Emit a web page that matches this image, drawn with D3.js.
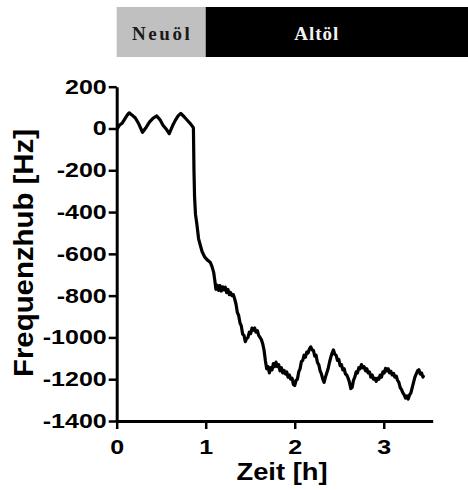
<!DOCTYPE html>
<html>
<head>
<meta charset="utf-8">
<script src="https://cdn.jsdelivr.net/npm/d3@7"></script>
<style>
  body { margin: 0; background: #fff; }
  svg { display: block; }
</style>
</head>
<body>
<div id="chart"></div>
<script>
// phases shown in the bar above the plot
const phases = ["Neuöl", "Altöl"];
const phaseStart = [0, 1];

const yTicks = [-1400, -1200, -1000, -800, -600, -400, -200, 0, 200];
const yMinor = [-1300, -1100, -900, -700, -500, -300, -100, 100];
const xTicks = [0, 1, 2, 3];
const xMinor = [0.25, 0.5, 0.75, 1.25, 1.5, 1.75, 2.25, 2.5, 2.75, 3.25, 3.5];

// time [h]
const zeit = [
  0.00, 0.03, 0.06, 0.09, 0.12, 0.14, 0.17, 0.21, 0.25, 0.29, 0.33, 0.37, 0.41, 0.45,
  0.49, 0.52, 0.56, 0.59, 0.63, 0.66, 0.69, 0.72, 0.76, 0.80, 0.83, 0.86, 0.862, 0.868,
  0.875, 0.885, 0.90, 0.92, 0.94, 0.96, 0.99, 1.02, 1.05, 1.07, 1.09,
  1.10, 1.115, 1.13, 1.145, 1.16, 1.175, 1.19, 1.205, 1.22, 1.235, 1.25, 1.265, 1.28, 1.295,
  1.31, 1.325, 1.34, 1.355, 1.37, 1.385, 1.40, 1.415, 1.43, 1.445, 1.46, 1.475, 1.49, 1.505,
  1.52, 1.535, 1.55, 1.565, 1.58, 1.595, 1.61, 1.625, 1.64, 1.655, 1.67, 1.685, 1.70, 1.715,
  1.73, 1.745, 1.76, 1.775, 1.79, 1.805, 1.82, 1.835, 1.85, 1.865, 1.88, 1.895, 1.91, 1.925,
  1.94, 1.955, 1.97, 1.985, 2.00, 2.015, 2.03, 2.045, 2.06, 2.075, 2.09, 2.105, 2.12, 2.135,
  2.15, 2.165, 2.18, 2.195, 2.21, 2.225, 2.24, 2.255, 2.27, 2.285, 2.30, 2.315, 2.33, 2.345,
  2.36, 2.375, 2.39, 2.405, 2.42, 2.435, 2.45, 2.465, 2.48, 2.495, 2.51, 2.525, 2.54, 2.555,
  2.57, 2.585, 2.60, 2.615, 2.63, 2.645, 2.66, 2.675, 2.69, 2.705, 2.72, 2.735, 2.75, 2.765,
  2.78, 2.795, 2.81, 2.825, 2.84, 2.855, 2.87, 2.885, 2.90, 2.915, 2.93, 2.945, 2.96, 2.975,
  2.99, 3.005, 3.02, 3.035, 3.05, 3.065, 3.08, 3.095, 3.11, 3.125, 3.14, 3.155, 3.17, 3.185,
  3.20, 3.215, 3.23, 3.245, 3.26, 3.275, 3.29, 3.305, 3.32, 3.335, 3.35, 3.365, 3.38, 3.395,
  3.41, 3.425, 3.44, 3.45
];

// frequency shift [Hz]
const hub = [
  -5, 15, 25, 45, 65, 75, 65, 50, 20, -18, 5, 32, 50, 60,
  40, 16, -5, -25, 15, 40, 60, 72, 55, 36, 22, 5, 0, -200,
  -330, -410, -456, -528, -560, -590, -616, -630, -640, -660, -690,
  -720, -770, -750, -775, -752, -778, -758, -772, -760, -785, -770, -795, -785, -800,
  -795, -815, -840, -880, -895, -930, -945, -985, -990, -1020, -1005, -1000, -975, -982,
  -955, -965, -955, -975, -968, -990, -1000, -1010, -1030, -1060, -1110, -1150, -1140, -1170,
  -1145, -1155, -1125, -1140, -1118, -1140, -1130, -1160, -1145, -1170, -1158, -1175, -1165, -1190,
  -1180, -1200, -1195, -1225, -1230, -1205, -1200, -1165, -1150, -1115, -1110, -1085, -1095, -1070,
  -1075, -1055, -1045, -1060, -1062, -1090, -1085, -1120, -1130, -1160, -1175, -1200, -1215, -1190,
  -1170, -1150, -1120, -1095, -1075, -1060, -1080, -1085, -1110, -1105, -1135, -1130, -1155, -1150,
  -1175, -1180, -1195, -1215, -1245, -1240, -1205, -1190, -1165, -1170, -1145, -1150, -1130, -1145,
  -1140, -1160, -1150, -1170, -1165, -1190, -1180, -1200, -1195, -1210, -1195, -1200, -1180, -1190,
  -1165, -1170, -1148, -1160, -1150, -1170, -1162, -1180, -1172, -1190, -1185, -1205, -1215, -1240,
  -1250, -1265, -1275, -1290, -1280, -1295, -1275, -1265, -1240, -1215, -1190, -1175, -1160, -1155,
  -1175, -1170, -1190, -1180
];

const width = 468, height = 490;
const sans = "'Liberation Sans', Arial, sans-serif";
const serif = "'Liberation Serif', 'Times New Roman', serif";

const svg = d3.select("#chart").append("svg")
  .attr("width", width).attr("height", height);

const x = d3.scaleLinear().domain([0, 3.55]).range([116.7, 432.7]);
const y = d3.scaleLinear().domain([-1400, 200]).range([421, 86.7]);

// phase bar
const bar = svg.append("g");
const bands = phases.map((p, i) => ({
  name: p,
  x0: x(phaseStart[i]),
  x1: i + 1 < phaseStart.length ? x(phaseStart[i + 1]) : width
}));
bar.selectAll("rect").data(bands).join("rect")
  .attr("x", d => d.x0).attr("y", 7)
  .attr("width", d => d.x1 - d.x0).attr("height", 50)
  .attr("fill", (d, i) => i === 0 ? "#c0c0c0" : "#000");
bar.append("text")
  .attr("x", x(0.5) + 1).attr("y", 40)
  .attr("text-anchor", "middle")
  .attr("font-family", serif).attr("font-weight", "bold")
  .attr("font-size", 19).attr("letter-spacing", 2.6)
  .attr("fill", "#1a1a1a")
  .text(phases[0]);
bar.append("text")
  .attr("x", x(1) + 111).attr("y", 40)
  .attr("text-anchor", "middle")
  .attr("font-family", serif).attr("font-weight", "bold")
  .attr("font-size", 19).attr("letter-spacing", 1)
  .attr("fill", "#f2f2f2")
  .text(phases[1]);

// data line
const line = d3.line()
  .x((d, i) => x(zeit[i]))
  .y(d => y(d));
svg.append("path")
  .datum(hub)
  .attr("fill", "none")
  .attr("stroke", "#000")
  .attr("stroke-width", 3.2)
  .attr("stroke-linejoin", "round")
  .attr("d", line);

// axes
const stretch = 1.25;
const plain = d => String(d);

const gy = svg.append("g").attr("transform", `translate(${x(0)},0)`);
gy.call(d3.axisLeft(y).tickValues(yMinor).tickSize(4).tickFormat(""));
gy.call(d3.axisLeft(y).tickValues(yTicks).tickSizeInner(8).tickSizeOuter(0)
  .tickPadding(2).tickFormat(plain));

const gx = svg.append("g").attr("transform", `translate(0,${y(-1400)})`);
gx.call(d3.axisBottom(x).tickValues(xMinor).tickSize(5).tickFormat(""));
gx.call(d3.axisBottom(x).tickValues(xTicks).tickSizeInner(8).tickSizeOuter(0)
  .tickPadding(11).tickFormat(plain));

svg.selectAll(".domain").attr("stroke-width", 3);
svg.selectAll(".tick line").attr("stroke-width", 2.5);
svg.selectAll(".tick text")
  .attr("font-family", sans).attr("font-weight", "bold")
  .attr("font-size", 20).attr("fill", "#000");
gy.selectAll(".tick text")
  .attr("x", -10 / stretch)
  .attr("transform", `scale(${stretch},1)`);
gx.selectAll(".tick text")
  .attr("transform", `scale(${stretch},1)`);

// axis titles
svg.append("text")
  .attr("transform", "translate(33,253) rotate(-90) scale(1.05,1)")
  .attr("text-anchor", "middle")
  .attr("font-family", sans).attr("font-weight", "bold")
  .attr("font-size", 28)
  .text("Frequenzhub [Hz]");

svg.append("text")
  .attr("transform", "translate(282,480) scale(1.14,1)")
  .attr("text-anchor", "middle")
  .attr("font-family", sans).attr("font-weight", "bold")
  .attr("font-size", 24)
  .text("Zeit [h]");
</script>
</body>
</html>
